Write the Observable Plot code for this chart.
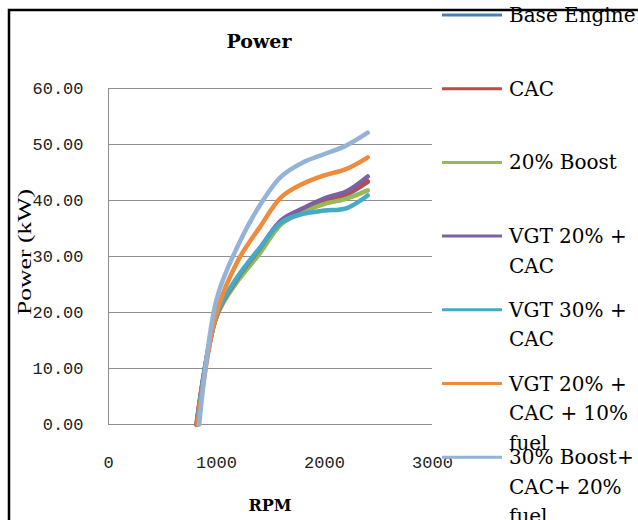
<!DOCTYPE html>
<html>
<head>
<meta charset="utf-8">
<script src="https://cdn.jsdelivr.net/npm/d3@7"></script>
<script src="https://cdn.jsdelivr.net/npm/@observablehq/plot@0.6"></script>
<style>
  html, body { margin: 0; padding: 0; background: #fff; }
  #chart { width: 638px; height: 520px; overflow: hidden; }
</style>
</head>
<body>
<div id="chart"></div>
<script>
// ---- data ----
const seriesNames = ["Base Engine", "CAC", "20% Boost", "VGT 20% + CAC", "VGT 30% + CAC", "VGT 20% + CAC + 10% fuel", "30% Boost+ CAC+ 20% fuel"];
const legendLabels = [["Base Engine"], ["CAC"], ["20% Boost"], ["VGT 20% +", "CAC"], ["VGT 30% +", "CAC"], ["VGT 20% +", "CAC + 10%", "fuel"], ["30% Boost+", "CAC+ 20%", "fuel"]];
const seriesColors = ["#4A7EBB", "#BE4B48", "#98B954", "#7D60A0", "#46AAC5", "#F08A3C", "#95B3D7"];
const startRpm = [815, 815, 820, 820, 820, 825, 840];
const rpm = [null, 1000, 1200, 1400, 1600, 1800, 2000, 2200, 2400];
const baseEngine = [0, 19.3, 26.0, 31.2, 36.2, 38.3, 40.0, 41.0, 43.3];
const cac        = [0, 19.4, 26.2, 31.3, 36.3, 38.4, 40.1, 41.2, 43.4];
const boost20    = [0, 19.2, 25.7, 30.5, 35.8, 37.9, 39.4, 40.3, 41.8];
const vgt20cac   = [0, 19.5, 26.3, 31.4, 36.5, 38.6, 40.4, 41.6, 44.3];
const vgt30cac   = [0, 19.6, 26.5, 31.5, 36.1, 37.6, 38.2, 38.6, 40.9];
const vgt20fuel  = [0, 19.9, 29.3, 35.2, 40.6, 43.0, 44.5, 45.6, 47.7];
const boost30fuel= [0, 22.3, 32.0, 39.1, 44.3, 46.8, 48.3, 49.8, 52.1];
const xTicks = [0, 1000, 2000, 3000];
const yTicks = [0, 10, 20, 30, 40, 50, 60];
const titleText = "Power";
const xLabel = "RPM";
const yLabel = "Power (kW)";

const allSeries = [baseEngine, cac, boost20, vgt20cac, vgt30cac, vgt20fuel, boost30fuel];
const data = [];
allSeries.forEach((vals, si) => {
  vals.forEach((v, i) => {
    data.push({series: seriesNames[si], rpm: i === 0 ? startRpm[si] : rpm[i], power: v});
  });
});

const gridColor = "#8f8f8f";
const plot = Plot.plot({
  width: 638,
  height: 520,
  marginLeft: 108,
  marginRight: 206,
  marginTop: 88,
  marginBottom: 96,
  style: {fontFamily: "'Liberation Mono', 'DejaVu Sans Mono', monospace", fontSize: "17px", color: "#222", background: "#fff"},
  x: {domain: [0, 3000]},
  y: {domain: [0, 60]},
  color: {domain: seriesNames, range: seriesColors},
  marks: [
    Plot.gridY(yTicks, {stroke: gridColor, strokeOpacity: 1, strokeWidth: 1}),
    Plot.ruleX([0], {stroke: gridColor, strokeWidth: 1}),
    Plot.line(data, {x: "rpm", y: "power", z: "series", stroke: "series", strokeWidth: 4.5, curve: "catmull-rom", strokeLinecap: "round", strokeLinejoin: "round"}),
    Plot.axisX(xTicks, {tickSize: 0, tickPadding: 31, label: null, tickFormat: d => String(d), fill: "#222"}),
    Plot.axisY(yTicks, {tickSize: 0, tickPadding: 25, label: null, tickFormat: d3.format(".2f"), fill: "#222"})
  ]
});
document.getElementById("chart").appendChild(plot);

const svg = d3.select(plot);
// frame border
svg.append("path")
  .attr("d", "M9,522 V10 H640")
  .attr("fill", "none").attr("stroke", "#000").attr("stroke-width", 2.5);

// title
svg.append("text")
  .attr("x", 259).attr("y", 48)
  .attr("text-anchor", "middle")
  .attr("font-family", "'DejaVu Serif', serif").attr("font-weight", "bold").attr("font-size", 19)
  .attr("fill", "#000")
  .text(titleText);

// x label
svg.append("text")
  .attr("x", 270).attr("y", 511)
  .attr("text-anchor", "middle")
  .attr("font-family", "'DejaVu Serif', serif").attr("font-weight", "bold").attr("font-size", 16)
  .attr("fill", "#000")
  .text(xLabel);

// y label
svg.append("text")
  .attr("transform", "translate(31,252) rotate(-90)")
  .attr("text-anchor", "middle")
  .attr("font-family", "'Liberation Serif', serif").attr("font-size", 18)
  .attr("textLength", 126).attr("lengthAdjust", "spacingAndGlyphs")
  .attr("fill", "#000")
  .text(yLabel);

// legend
const legTop = 15, legStep = 73.7, lineH = 29.5;
const leg = svg.append("g");
legendLabels.forEach((lines, i) => {
  const y = legTop + i * legStep;
  leg.append("line")
    .attr("x1", 442).attr("x2", 502).attr("y1", y).attr("y2", y)
    .attr("stroke", seriesColors[i]).attr("stroke-width", 3);
  const t = leg.append("text")
    .attr("text-anchor", "start")
    .attr("font-family", "'DejaVu Serif', serif").attr("font-size", 20)
    .attr("fill", "#000");
  lines.forEach((ln, j) => {
    t.append("tspan").attr("x", 509).attr("y", y + 7 + j * lineH).text(ln);
  });
});
</script>
</body>
</html>
